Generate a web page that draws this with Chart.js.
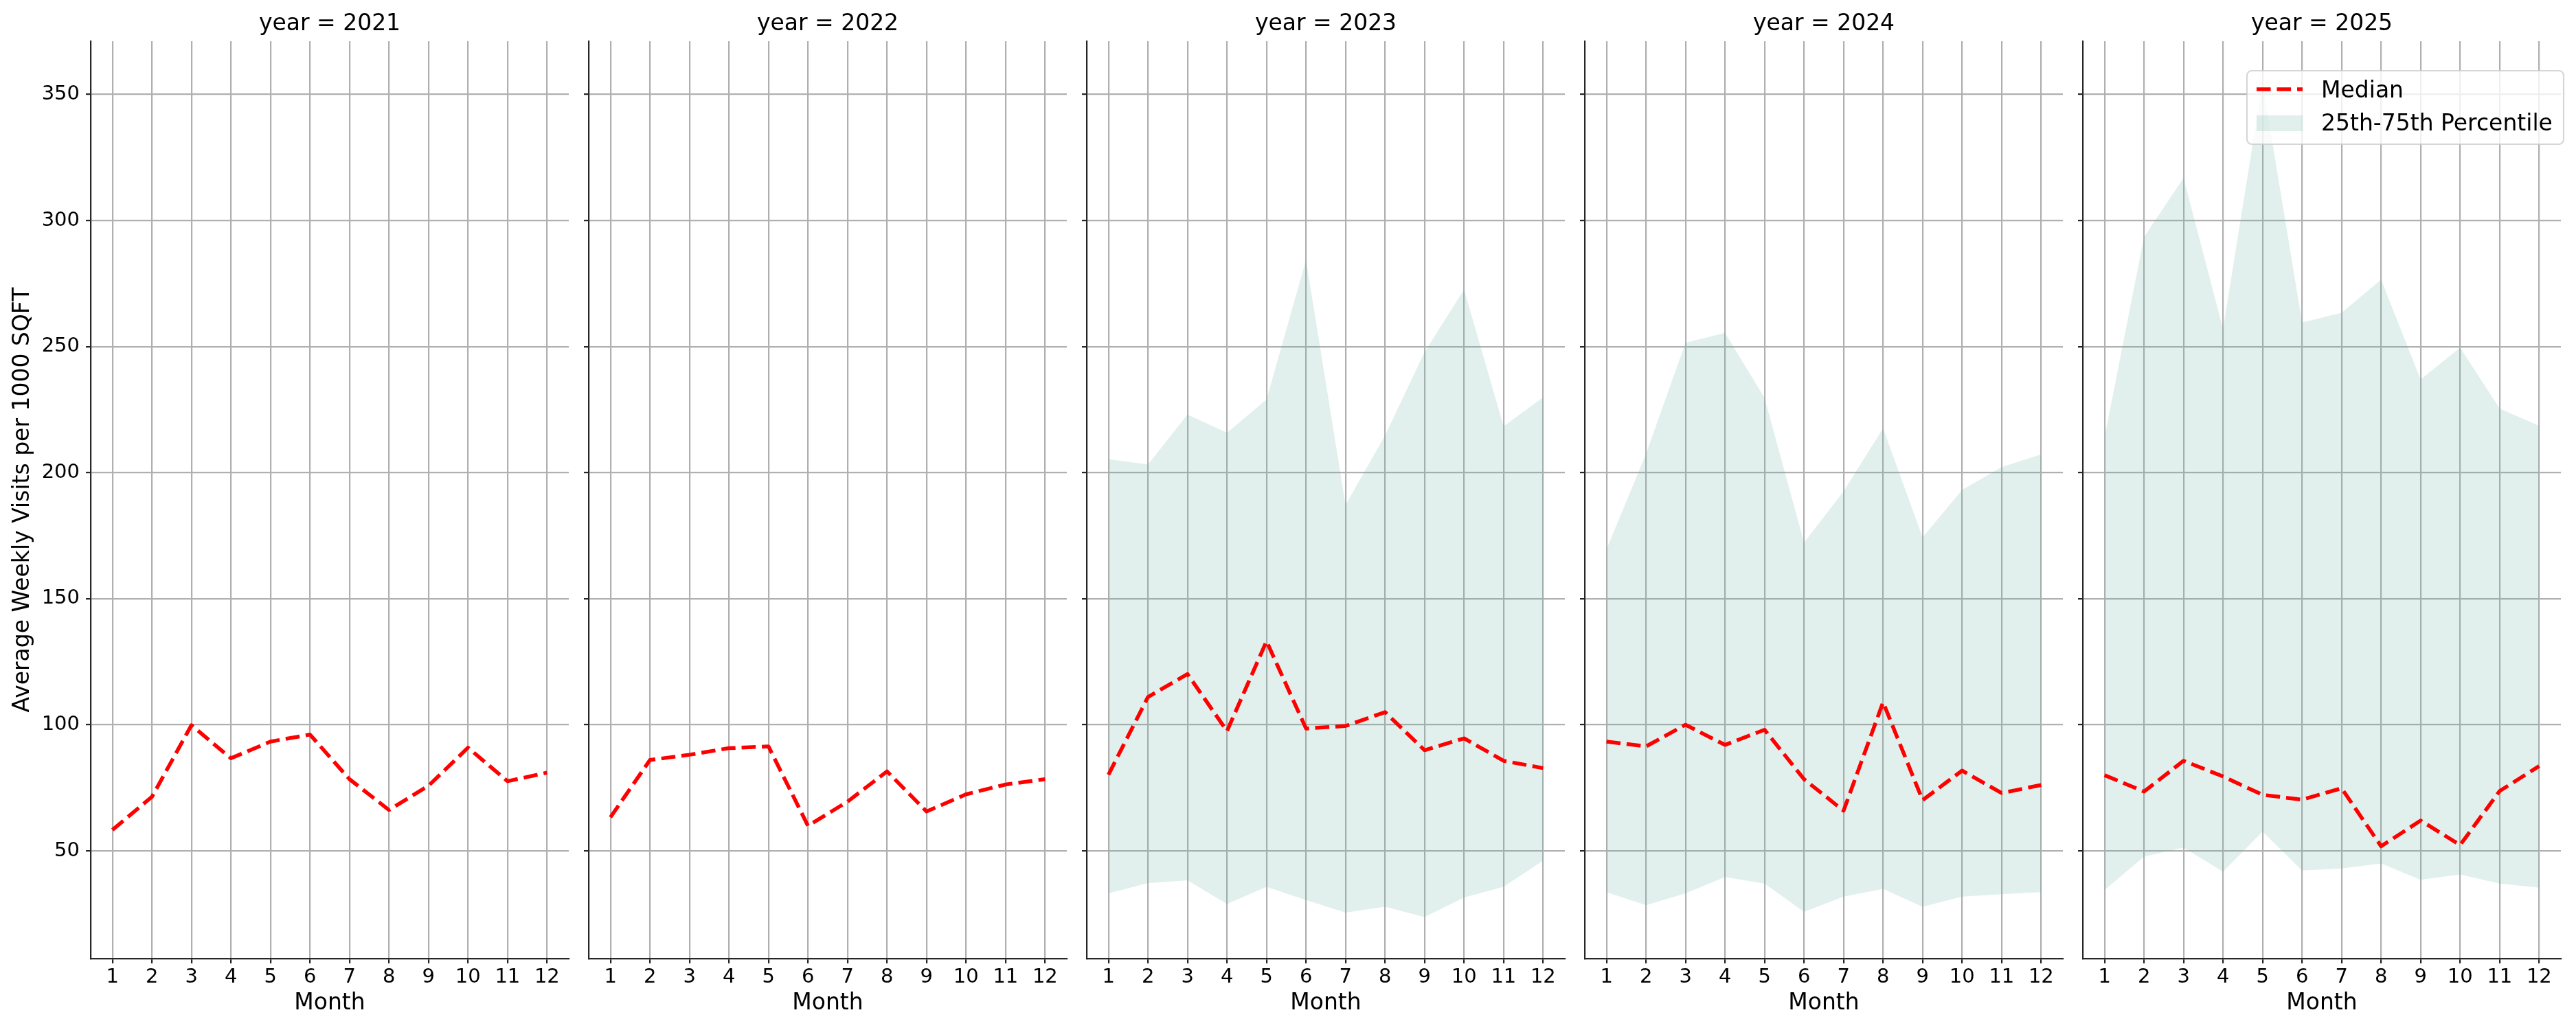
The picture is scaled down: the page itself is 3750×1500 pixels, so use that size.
<!DOCTYPE html>
<html>
<head>
<meta charset="utf-8">
<script src="https://cdn.jsdelivr.net/npm/chart.js@4.4.1/dist/chart.umd.min.js"></script>
<style>
  html, body { margin: 0; padding: 0; background: #fff; }
  #wrap { position: relative; width: 3750px; height: 1500px; overflow: hidden; }
  canvas { position: absolute; top: 0; }
</style>
</head>
<body>
<div id="wrap"></div>
<script>
// months on the x axis, one panel per year
const months = [1, 2, 3, 4, 5, 6, 7, 8, 9, 10, 11, 12];
const years = [2021, 2022, 2023, 2024, 2025];
const yTicks = [50, 100, 150, 200, 250, 300, 350];

// medians per year
const median2021 = [58.3, 71.4, 99.8, 86.7, 93.3, 96.1, 78.4, 66.2, 75.8, 90.9, 77.6, 81.0];
const median2022 = [63.3, 86.0, 88.1, 90.7, 91.4, 59.9, 69.5, 81.5, 65.6, 72.4, 76.3, 78.4];
const median2023 = [80.2, 111.0, 120.1, 97.5, 133.1, 98.5, 99.5, 105.0, 89.9, 94.6, 85.7, 82.8];
const median2024 = [93.3, 91.4, 100.0, 92.0, 98.0, 78.4, 65.9, 108.9, 70.1, 81.8, 72.9, 76.1];
const median2025 = [80.0, 73.5, 85.7, 79.5, 72.2, 70.3, 74.8, 51.8, 62.0, 52.3, 73.7, 83.6];

// 25th percentile (no band for 2021/2022)
const p25_2023 = [33.1, 37.2, 38.3, 28.9, 35.7, 30.5, 25.5, 27.8, 23.7, 31.5, 35.7, 46.1];
const p25_2024 = [33.6, 28.4, 33.1, 39.6, 37.0, 25.8, 31.8, 34.9, 27.8, 31.8, 32.8, 33.6];
const p25_2025 = [34.4, 47.7, 51.3, 41.7, 57.6, 42.2, 43.0, 45.0, 38.5, 40.6, 37.0, 35.4];

// 75th percentile
const p75_2023 = [205.3, 203.2, 223.0, 215.8, 229.0, 284.3, 187.1, 214.7, 247.8, 272.6, 218.4, 229.8];
const p75_2024 = [169.6, 207.4, 251.5, 255.4, 229.6, 172.2, 192.6, 217.6, 174.3, 193.1, 202.2, 207.2];
const p75_2025 = [213.9, 293.4, 316.9, 256.9, 354.6, 259.5, 263.4, 276.5, 236.9, 249.6, 225.4, 218.6];

const medians = [median2021, median2022, median2023, median2024, median2025];
const lows = [null, null, p25_2023, p25_2024, p25_2025];
const highs = [null, null, p75_2023, p75_2024, p75_2025];

const FONT = "'DejaVu Sans', sans-serif";
const BAND = 'rgba(105, 179, 162, 0.2)';
const RED = '#ff0000';
const DASH = [20.6, 8.9];
const SPINE = '#262626';
const GRID = '#b0b0b0';

const PLOT_LEFT = 132, PLOT_W = 696, PANEL_STEP = 725, RIGHT_PAD = 22, INNER_AXIS = 20;

Chart.defaults.font.family = FONT;

function pts(vals) {
  return months.map((m, i) => ({x: m, y: vals[i]}));
}

function roundRect(ctx, x, y, w, h, r) {
  ctx.beginPath();
  ctx.moveTo(x + r, y);
  ctx.lineTo(x + w - r, y);
  ctx.arcTo(x + w, y, x + w, y + r, r);
  ctx.lineTo(x + w, y + h - r);
  ctx.arcTo(x + w, y + h, x + w - r, y + h, r);
  ctx.lineTo(x + r, y + h);
  ctx.arcTo(x, y + h, x, y + h - r, r);
  ctx.lineTo(x, y + r);
  ctx.arcTo(x, y, x + r, y, r);
  ctx.closePath();
}

// legend box drawn inside the last panel, like the matplotlib one
const bandLegend = {
  id: 'bandLegend',
  afterDraw(chart, args, opts) {
    if (!opts.show) return;
    const ctx = chart.ctx;
    const x0 = chart.chartArea.right - 457;
    ctx.save();
    roundRect(ctx, x0, 103, 461, 107, 7);
    ctx.fillStyle = 'rgba(255,255,255,0.8)';
    ctx.fill();
    ctx.strokeStyle = 'rgba(204,204,204,0.8)';
    ctx.lineWidth = 2.2;
    ctx.stroke();

    ctx.beginPath();
    ctx.moveTo(x0 + 14, 130);
    ctx.lineTo(x0 + 81, 130);
    ctx.strokeStyle = RED;
    ctx.lineWidth = 5.5;
    ctx.setLineDash(DASH);
    ctx.stroke();
    ctx.setLineDash([]);

    ctx.fillStyle = BAND;
    ctx.fillRect(x0 + 14, 168, 67, 23);

    ctx.fillStyle = '#000';
    ctx.font = '33px ' + FONT;
    ctx.textBaseline = 'alphabetic';
    ctx.textAlign = 'left';
    ctx.fillText('Median', x0 + 108, 142);
    ctx.fillText('25th-75th Percentile', x0 + 108, 190);
    ctx.restore();
  }
};

const wrap = document.getElementById('wrap');

years.forEach((year, idx) => {
  const first = idx === 0;
  const axisW = first ? PLOT_LEFT : INNER_AXIS;
  const left = PLOT_LEFT + idx * PANEL_STEP - axisW;
  const width = axisW + PLOT_W + RIGHT_PAD;

  const canvas = document.createElement('canvas');
  canvas.width = width;
  canvas.height = 1500;
  canvas.style.left = left + 'px';
  canvas.style.width = width + 'px';
  canvas.style.height = '1500px';
  wrap.appendChild(canvas);

  const datasets = [{
    label: 'Median',
    data: pts(medians[idx]),
    borderColor: RED,
    borderWidth: 5.5,
    borderDash: DASH,
    borderCapStyle: 'butt',
    borderJoinStyle: 'round',
    pointRadius: 0,
    tension: 0,
    fill: false,
    order: 0
  }];
  if (highs[idx]) {
    datasets.push({
      label: '25th Percentile',
      data: pts(lows[idx]),
      borderColor: 'rgba(0,0,0,0)',
      borderWidth: 0,
      pointRadius: 0,
      tension: 0,
      fill: false,
      order: 2
    });
    datasets.push({
      label: '25th-75th Percentile',
      data: pts(highs[idx]),
      borderColor: 'rgba(0,0,0,0)',
      borderWidth: 0,
      backgroundColor: BAND,
      pointRadius: 0,
      tension: 0,
      fill: '-1',
      order: 1
    });
  }

  const gridOpts = {color: GRID, lineWidth: 2.2, tickColor: SPINE, tickWidth: 2.2, tickLength: 7};

  new Chart(canvas, {
    type: 'line',
    data: {datasets},
    options: {
      responsive: false,
      animation: false,
      devicePixelRatio: 1,
      layout: {padding: {left: 0, right: RIGHT_PAD, top: 0, bottom: 0}},
      plugins: {
        legend: {display: false},
        tooltip: {enabled: false},
        title: {
          display: true,
          text: 'year = ' + year,
          fullSize: false,
          color: '#000',
          font: {family: FONT, size: 33, weight: 'normal'},
          padding: {top: 16, bottom: 4.4}
        },
        bandLegend: {show: idx === years.length - 1}
      },
      scales: {
        x: {
          type: 'linear',
          min: 0.45,
          max: 12.55,
          ticks: {
            stepSize: 1,
            includeBounds: false,
            autoSkip: false,
            maxRotation: 0,
            padding: 3,
            color: '#000',
            font: {family: FONT, size: 29}
          },
          grid: gridOpts,
          border: {color: SPINE, width: 2.2},
          title: {
            display: true,
            text: 'Month',
            color: '#000',
            font: {family: FONT, size: 33},
            padding: {top: 0, bottom: 18.7}
          },
          afterFit(s) {
            s.height = 104;
            s.paddingLeft = 0;
            s.paddingRight = 0;
          }
        },
        y: {
          min: 7.25,
          max: 371.1,
          afterBuildTicks(s) {
            s.ticks = yTicks.map(v => ({value: v}));
          },
          ticks: {
            display: first,
            padding: 9,
            color: '#000',
            font: {family: FONT, size: 29}
          },
          grid: gridOpts,
          border: {color: SPINE, width: 2.2},
          title: {
            display: first,
            text: 'Average Weekly Visits per 1000 SQFT',
            color: '#000',
            font: {family: FONT, size: 33},
            padding: {top: 13.8, bottom: 0}
          },
          afterFit(s) {
            s.width = axisW;
            s.paddingTop = 0;
            s.paddingBottom = 0;
          }
        }
      }
    },
    plugins: [bandLegend]
  });
});
</script>
</body>
</html>
